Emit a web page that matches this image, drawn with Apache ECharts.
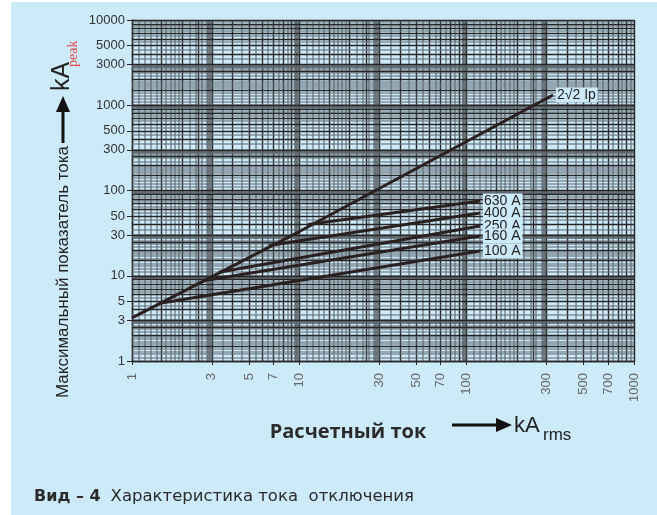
<!DOCTYPE html>
<html><head><meta charset="utf-8">
<script src="https://cdn.jsdelivr.net/npm/echarts@6/dist/echarts.min.js"></script>
<style>html,body{margin:0;padding:0;background:#fff}#c{width:657px;height:515px}</style>
</head><body><div id="c"></div>
<script>
// Tick labels on both logarithmic axes
const xTicks = [1, 3, 5, 7, 10, 30, 50, 70, 100, 300, 500, 700, 1000];
const yTicks = [1, 3, 5, 10, 30, 50, 100, 300, 500, 1000, 3000, 5000, 10000];

// Unlimited peak current line (2√2 Ip)
const peakX = [1, 10, 328];
const peakY = [3.2, 33, 1320];

// Current-limited peak values for each fuse rating
const limitNames = ['630 A', '400 A', '250 A', '160 A', '100 A'];
const limitStartX = [11.3, 6.6, 3.3, 2.6, 1.5];
const limitStartY = [40, 22.7, 11, 8.7, 4.8];
const limitEndX = [120, 120, 120, 120, 120];
const limitEndY = [75.5, 54.6, 38.4, 29.3, 19.5];

// Log-paper rulings inside one decade
const ruleDark = [1, 1.5, 2, 2.5, 3, 4, 5, 6, 7, 8, 9];
const ruleLight = [1.1, 1.2, 1.3, 1.4, 1.6, 1.7, 1.8, 1.9, 2.2, 2.4, 2.6, 2.8, 3.5, 4.5, 5.5, 6.5, 7.5, 8.5, 9.5];
const ruleBand = [1, 3];

const BG = '#cdeaf8';
const INK = '#2a2020';

function rulings(key, decades, last) {
  const out = [];
  decades.forEach(d => {
    ruleLight.forEach(m => out.push({ [key]: m * d, lineStyle: { color: '#5f6a72', width: 1.6, opacity: 0.7, type: 'solid' } }));
  });
  decades.forEach(d => {
    ruleBand.forEach(m => out.push({ [key]: m * d * 0.965, lineStyle: { color: '#5c6368', width: 4.5, opacity: 0.8, type: 'solid' } }));
  });
  decades.forEach(d => {
    ruleDark.forEach(m => out.push({ [key]: m * d, lineStyle: { color: '#262626', width: 1.4, type: 'solid' } }));
  });
  out.push({ [key]: last, lineStyle: { color: '#262626', width: 1.4, type: 'solid' } });
  return out;
}

const series = [];
series.push({
  type: 'line', silent: true, data: [], symbol: 'none',
  markLine: {
    silent: true, symbol: 'none', animation: false, label: { show: false },
    data: rulings('xAxis', [1, 10, 100], 1000).concat(rulings('yAxis', [1, 10, 100, 1000], 10000))
  },
  z: 1
});

function endLabel(text) {
  return {
    show: true, distance: 3, formatter: text,
    color: '#222', fontFamily: 'Liberation Sans', fontSize: 14,
    backgroundColor: BG, padding: [1, 2, 0, 1], lineHeight: 14
  };
}

series.push({
  type: 'line', symbol: 'none', showSymbol: false, z: 5,
  lineStyle: { color: INK, width: 3 },
  endLabel: endLabel('2√2 Ip'),
  data: peakX.map((x, i) => [x, peakY[i]])
});

limitNames.forEach((name, i) => {
  series.push({
    type: 'line', symbol: 'none', showSymbol: false, z: 5, name,
    lineStyle: { color: INK, width: 3 },
    endLabel: endLabel(name),
    data: [[limitStartX[i], limitStartY[i]], [limitEndX[i], limitEndY[i]]]
  });
});

const plain = v => String(v);

const chart = echarts.init(document.getElementById('c'), null, { renderer: 'canvas' });
chart.setOption({
  backgroundColor: '#fff',
  animation: false,
  grid: { left: 132, right: 23, top: 20, bottom: 154 },
  xAxis: {
    type: 'log', logBase: 10, min: 1, max: 1000,
    axisLine: { show: true, lineStyle: { color: '#262626', width: 1.4 } },
    axisTick: { show: true, customValues: xTicks, length: 4, lineStyle: { color: '#262626' } },
    splitLine: { show: false },
    axisLabel: {
      customValues: xTicks, rotate: 90, margin: 12, formatter: plain,
      color: '#666', fontFamily: 'Liberation Sans', fontSize: 13
    }
  },
  yAxis: {
    type: 'log', logBase: 10, min: 1, max: 10000,
    axisLine: { show: true, lineStyle: { color: '#262626', width: 1.4 } },
    axisTick: { show: true, customValues: yTicks, length: 5, lineStyle: { color: '#262626' } },
    splitLine: { show: false },
    axisLabel: {
      customValues: yTicks, margin: 7, formatter: plain,
      color: '#333', fontFamily: 'Liberation Sans', fontSize: 13
    }
  },
  graphic: [
    { type: 'rect', z: -10, shape: { x: 11, y: 2, width: 646, height: 513 }, style: { fill: BG } },
    // x-axis title
    { type: 'text', z: 10, x: 348, y: 432, style: { text: 'Расчетный ток', font: 'bold 20px "Open Sans"', fill: '#2b2b2b', align: 'center', verticalAlign: 'middle' } },
    { type: 'line', z: 10, shape: { x1: 452, y1: 425, x2: 500, y2: 425 }, style: { stroke: '#111', lineWidth: 3 } },
    { type: 'polygon', z: 10, shape: { points: [[496, 418], [512, 425], [496, 432]] }, style: { fill: '#111' } },
    { type: 'text', z: 10, x: 514, y: 426, style: { text: 'kA', font: '22px "Liberation Sans"', fill: '#222', verticalAlign: 'middle' } },
    { type: 'text', z: 10, x: 543, y: 435, style: { text: 'rms', font: '17px "Liberation Sans"', fill: '#222', verticalAlign: 'middle' } },
    // y-axis title
    { type: 'text', z: 10, x: 63, y: 272, rotation: Math.PI / 2, style: { text: 'Максимальный показатель тока', font: '17px "Liberation Sans"', fill: '#222', align: 'center', verticalAlign: 'middle' } },
    { type: 'line', z: 10, shape: { x1: 63, y1: 143, x2: 63, y2: 108 }, style: { stroke: '#111', lineWidth: 3 } },
    { type: 'polygon', z: 10, shape: { points: [[56, 112], [63, 96], [70, 112]] }, style: { fill: '#111' } },
    { type: 'text', z: 10, x: 62, y: 91, rotation: Math.PI / 2, style: { text: 'kA', font: '25px "Liberation Sans"', fill: '#222', align: 'left', verticalAlign: 'middle' } },
    { type: 'text', z: 10, x: 73, y: 67, rotation: Math.PI / 2, style: { text: 'peak', font: '14px "Liberation Serif"', fill: '#e8474a', align: 'left', verticalAlign: 'middle' } },
    // caption
    { type: 'text', z: 10, x: 34, y: 497, style: {
      text: '{b|Вид – 4}   {n|Характеристика тока  отключения}',
      verticalAlign: 'middle',
      rich: {
        b: { font: 'bold 16px "DejaVu Sans"', fill: '#2b2b2b' },
        n: { font: '16.5px "DejaVu Sans"', fill: '#2b2b2b' }
      }
    } }
  ],
  series
});
</script></body></html>
